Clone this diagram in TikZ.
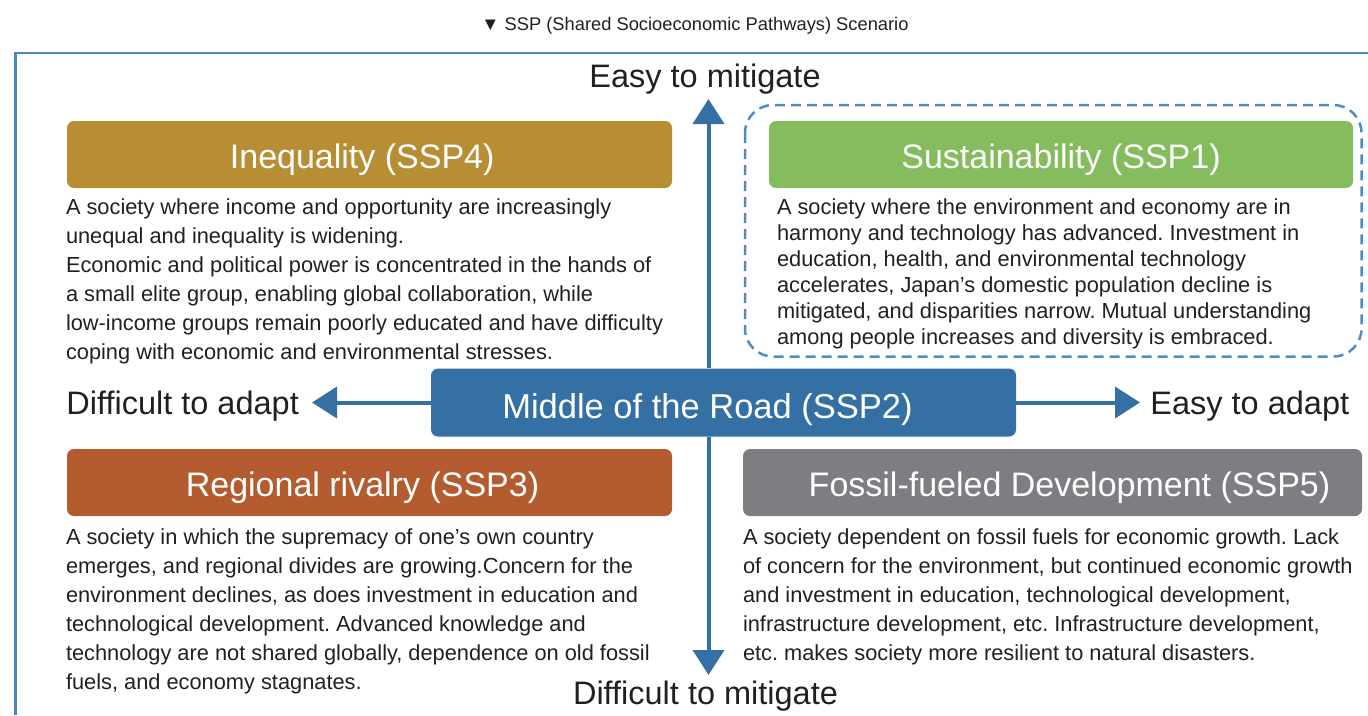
\documentclass[tikz,border=0pt]{standalone}
\usepackage{fontspec}
\setmainfont{Liberation Sans}
\usetikzlibrary{positioning,arrows.meta}
\frenchspacing

\definecolor{framecol}{RGB}{74,134,190}
\definecolor{dashcol}{RGB}{78,141,196}
\definecolor{axiscol}{RGB}{52,112,163}
\definecolor{ineqcol}{RGB}{184,142,52}
\definecolor{sustcol}{RGB}{133,188,94}
\definecolor{rivalcol}{RGB}{180,92,48}
\definecolor{fossilcol}{RGB}{125,126,130}
\definecolor{txtcol}{RGB}{35,31,32}

\begin{document}
\begin{tikzpicture}[x=1pt,y=-1pt,thick]
\tikzstyle{head}=[rectangle,rounded corners=7pt,text=white,inner sep=0pt,minimum height=67pt,font=\fontsize{34}{40}\selectfont,text height=27.6pt,text depth=0pt]
\tikzstyle{body}=[align=left,inner sep=0pt,text=txtcol,font=\fontsize{21.8}{29}\selectfont]
\tikzstyle{axislabel}=[inner sep=0pt,text=txtcol,font=\fontsize{32.5}{36}\selectfont]
\tikzstyle{axis}=[draw=axiscol,line width=4pt,-{Triangle[width=31pt,length=25pt]},fill=axiscol]
\useasboundingbox (0,0) rectangle (1368,715);

\draw[framecol,line width=2.5pt] (1368,53) -- (15.5,53) -- (15.5,715);
\node[font=\fontsize{18.3}{20}\selectfont,text=txtcol] (title) at (695,26) {▼ SSP (Shared Socioeconomic Pathways) Scenario};

\node[head,fill=ineqcol,minimum width=605pt] (S4) at (369.5,154.5) {\hspace*{-14.6pt}Inequality (SSP4)};
\node[head,fill=sustcol,minimum width=584pt] (S1) at (1061,154.5) {Sustainability (SSP1)};
\node[head,fill=rivalcol,minimum width=605pt] (S3) at (369.5,482.5) {\hspace*{-14pt}Regional rivalry (SSP3)};
\node[head,fill=fossilcol,minimum width=619pt] (S5) at (1052.5,482.5) {\hspace*{34pt}Fossil-fueled Development (SSP5)};

\node[body,below=10pt of S4.south west,anchor=north west,xshift=-1pt] (T4) {A society where income and opportunity are increasingly\\unequal and inequality is widening.\\Economic and political power is concentrated in the hands of\\a small elite group, enabling global collaboration, while\\low-income groups remain poorly educated and have difficulty\\coping with economic and environmental stresses.};
\node[body,font=\fontsize{21.8}{26}\selectfont,below=10pt of S1.south west,anchor=north west,xshift=8pt] (T1) {A society where the environment and economy are in\\harmony and technology has advanced. Investment in\\education, health, and environmental technology\\accelerates, Japan’s domestic population decline is\\mitigated, and disparities narrow. Mutual understanding\\among people increases and diversity is embraced.};
\node[body,below=11.6pt of S3.south west,anchor=north west,xshift=-1pt] (T3) {A society in which the supremacy of one’s own country\\emerges, and regional divides are growing.Concern for the\\environment declines, as does investment in education and\\technological development. Advanced knowledge and\\technology are not shared globally, dependence on old fossil\\fuels, and economy stagnates.};
\node[body,below=11.6pt of S5.south west,anchor=north west] (T5) {A society dependent on fossil fuels for economic growth. Lack\\of concern for the environment, but continued economic growth\\and investment in education, technological development,\\infrastructure development, etc. Infrastructure development,\\etc. makes society more resilient to natural disasters.};

\draw[dashcol,line width=2.5pt,dash pattern=on 10pt off 6pt,rounded corners=28pt] (745,105) rectangle (1361.5,356.5);

\coordinate (N) at (708.5,99);
\coordinate (S) at (708.5,675);
\coordinate (W) at (312,402.5);
\coordinate (E) at (1140,402.5);
\node[head,fill=axiscol,minimum width=585pt,minimum height=68pt,font=\fontsize{34.5}{40}\selectfont,text height=32pt] (S2) at (723.5,402.5) {\hspace*{-32pt}Middle of the Road (SSP2)};

\draw[axis] (N |- S2.north) -- (N);
\draw[axis] (S |- S2.south) -- (S);
\draw[axis] (S2.west) -- (W);
\draw[axis] (S2.east) -- (E);

\node[axislabel,anchor=base] (emit) at (705,87.3) {Easy to mitigate};
\node[axislabel,anchor=base] (dmit) at (705.5,704) {Difficult to mitigate};
\node[axislabel,anchor=base west] (dadp) at (66,414) {Difficult to adapt};
\node[axislabel,anchor=base west] (eadp) at (1150,414) {Easy to adapt};
\end{tikzpicture}
\end{document}
